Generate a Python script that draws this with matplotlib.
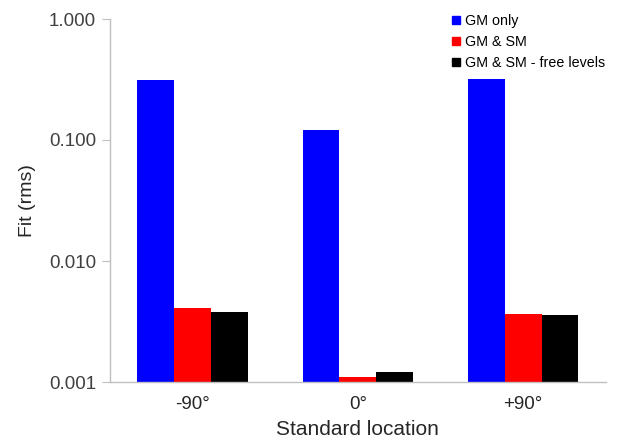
import matplotlib
matplotlib.use("Agg")
import matplotlib.pyplot as plt
from matplotlib.lines import Line2D
import numpy as np

plt.rcParams['font.family'] = ['Liberation Sans', 'DejaVu Sans']

categories = ["-90°", "0°", "+90°"]
series_names = ["GM only", "GM & SM", "GM & SM - free levels"]
gm_only = [0.313, 0.121, 0.318]
gm_sm = [0.00406, 0.00111, 0.00365]
gm_sm_free = [0.00381, 0.00122, 0.00356]
colors = ["#0000ff", "#ff0000", "#000000"]

fig = plt.figure(figsize=(6.18, 4.40), dpi=100)
ax = fig.add_axes([110/618, 1-382/440, (605.7-110)/618, (382-19)/440])

x = np.arange(len(categories))
w = 0.2233
for i, (vals, c, name) in enumerate(zip([gm_only, gm_sm, gm_sm_free], colors, series_names)):
    ax.bar(x + (i-1)*w, vals, width=w, color=c, label=name, bottom=0)

ax.set_yscale('log')
ax.set_ylim(0.001, 1.0)
ax.set_xlim(-0.5, 2.5)
ax.set_yticks([0.001, 0.01, 0.1, 1.0])
ax.set_yticklabels(["0.001", "0.010", "0.100", "1.000"])
ax.minorticks_off()
ax.set_xticks(x)
ax.set_xticklabels(categories)

for s in ['top', 'right']:
    ax.spines[s].set_visible(False)
for s in ['left', 'bottom']:
    ax.spines[s].set_color('#bfbfbf')
    ax.spines[s].set_linewidth(1.0)
ax.tick_params(axis='y', length=6, color='#bfbfbf', labelsize=13.5, labelcolor='#404040', pad=4)
ax.tick_params(axis='x', length=0, labelsize=13.5, labelcolor='#262626', pad=10)

ax.set_ylabel("Fit (rms)", fontsize=14, color='#262626', labelpad=9)
ax.set_xlabel("Standard location", fontsize=15, color='#262626', labelpad=5)

handles = [Line2D([0], [0], marker='s', linestyle='none', markersize=6,
                  markerfacecolor=c, markeredgecolor=c) for c in colors]
ax.legend(handles, series_names, loc='upper right', bbox_to_anchor=(1.01, 1.03),
          frameon=False, fontsize=10.3, handlelength=0.6, handletextpad=0.3,
          labelspacing=0.5, borderaxespad=0)

fig.savefig("out.png", dpi=100)
